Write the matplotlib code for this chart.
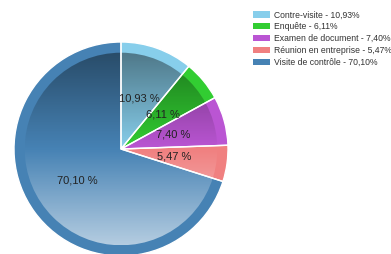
import numpy as np
import matplotlib
matplotlib.use("Agg")
import matplotlib.pyplot as plt
from matplotlib.patches import Circle, Patch

categories = ["Contre-visite", "Enquête", "Examen de document",
              "Réunion en entreprise", "Visite de contrôle"]
shares = [10.93, 6.11, 7.40, 5.47, 70.10]
colors = ["#87CEEB", "#32CD32", "#BA55D3", "#F08080", "#4682B4"]

plt.rcParams["font.family"] = ["Liberation Sans", "DejaVu Sans"]

W, H = 391, 254
cx, cy, R = 121, 149, 107  # pie centre / radius in pixels

fig = plt.figure(figsize=(W / 100, H / 100), dpi=100)
ax = fig.add_axes([0, 0, 1, 1])
ax.axis("off")

# outer ring in plain colours
ax.pie(shares, colors=colors, startangle=90, counterclock=False, radius=1,
       wedgeprops=dict(linewidth=0))
# inner disc, same colours, then a vertical shading on top
ax.pie(shares, colors=colors, startangle=90, counterclock=False, radius=0.9,
       wedgeprops=dict(linewidth=0))
n = 256
t = np.linspace(0, 1, n)  # 0 top -> 1 bottom
grad = np.zeros((n, 1, 4))
dark = np.clip(1 - t / 0.5, 0, 1) * 0.42
light = np.clip((t - 0.5) / 0.5, 0, 1) * 0.6
grad[:, 0, :3] = np.where(t[:, None] < 0.5, 0.0, 1.0)
grad[:, 0, 3] = dark + light
im = ax.imshow(grad, extent=[-0.9, 0.9, -0.9, 0.9], aspect="auto",
               interpolation="bilinear", zorder=2)
im.set_clip_path(Circle((0, 0), 0.9, transform=ax.transData))

# white separators + value labels
vals = iter(shares)
ax.pie(shares, colors=["none"] * len(shares), startangle=90,
       counterclock=False, radius=1, pctdistance=0.505,
       autopct=lambda p: ("%.2f %%" % next(vals)).replace(".", ","),
       textprops=dict(fontsize=8, color="#222222"),
       wedgeprops=dict(edgecolor="white", linewidth=1, zorder=3))
for txt in ax.texts:
    txt.set_zorder(4)
ax.set_aspect("auto")
ax.set_xlim(-cx / R, (W - cx) / R)
ax.set_ylim(-(H - cy) / R, cy / R)

handles = [Patch(facecolor=c, edgecolor="none") for c in colors]
labels = [("%s - %.2f%%" % (c, s)).replace(".", ",")
          for c, s in zip(categories, shares)]
fig.legend(handles, labels, loc="upper left",
           bbox_to_anchor=(253 / W, 1 - 10.5 / H),
           frameon=False, fontsize=6.2, handlelength=2.0, handleheight=0.75,
           handletextpad=0.45, labelspacing=0.33, borderpad=0,
           borderaxespad=0, labelcolor="#333333")

fig.savefig("out.png", dpi=100)
